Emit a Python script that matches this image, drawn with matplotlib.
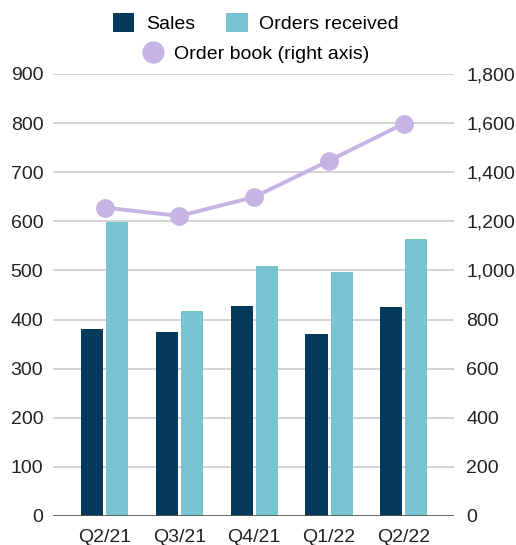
import numpy as np
import matplotlib
matplotlib.use("Agg")
from matplotlib import pyplot as plt
from matplotlib.lines import Line2D
from matplotlib.patches import Patch
from matplotlib.ticker import FuncFormatter

quarters = ["Q2/21", "Q3/21", "Q4/21", "Q1/22", "Q2/22"]
sales = [380, 374, 428, 370, 425]
orders_received = [599, 418, 510, 497, 565]
order_book = [1256, 1222, 1299, 1447, 1598]

c_sales = "#033a5c"
c_orders = "#78c4d3"
c_book = "#c5b4e3"
fs = 14

plt.rcParams['font.family'] = ['Liberation Sans', 'DejaVu Sans']

fig = plt.figure(figsize=(5.16, 5.45), dpi=100)
ax = fig.add_axes([53/516, 29/545, 401/516, 442/545])
ax2 = ax.twinx()

x = np.arange(len(quarters))
w = 0.295
gap = 0.04
ax.bar(x - (w + gap)/2, sales, w, color=c_sales, zorder=3)
ax.bar(x + (w + gap)/2, orders_received, w, color=c_orders, zorder=3)

ax2.plot(x, order_book, color=c_book, lw=2.8, marker="o", ms=12.5, zorder=4)

ax.set_xlim(-0.69, 4.67)
ax.set_ylim(0, 900)
ax2.set_ylim(0, 1800)
ax.set_yticks(np.arange(0, 901, 100))
ax2.set_yticks(np.arange(0, 1801, 200))
ax2.yaxis.set_major_formatter(FuncFormatter(lambda v, p: f"{int(v):,}"))
ax.set_xticks(x)
ax.set_xticklabels(quarters)

ax.grid(axis="y", color="#cccccc", lw=1.2, zorder=0)
for a in (ax, ax2):
    for s in ["top", "left", "right", "bottom"]:
        a.spines[s].set_visible(False)
    a.tick_params(length=0, labelsize=fs, colors="#222222")
ax.axhline(0, color="#555555", lw=1.2, zorder=5)
ax.tick_params(axis="y", pad=7)
ax2.tick_params(axis="y", pad=9)
ax.tick_params(axis="x", pad=9)

h1 = [Patch(facecolor=c_sales, label="Sales"),
      Patch(facecolor=c_orders, label="Orders received")]
fig.legend(handles=h1, loc="center", bbox_to_anchor=(256/516, 1 - 23/545),
           ncol=2, frameon=False, fontsize=fs, handlelength=1.1,
           handleheight=1.1, handletextpad=0.6, columnspacing=1.6)
h2 = [Line2D([], [], color=c_book, marker="o", ms=15, lw=0, label="Order book (right axis)")]
fig.legend(handles=h2, loc="center", bbox_to_anchor=(256/516, 1 - 54/545),
           frameon=False, fontsize=fs, handlelength=1.0, handletextpad=0.6)

plt.savefig("out.png", dpi=100)
